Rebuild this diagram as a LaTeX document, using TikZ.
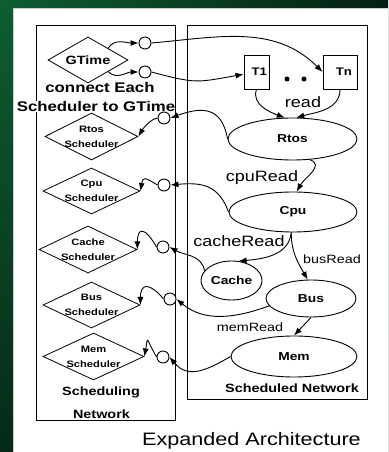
\documentclass[tikz,border=0pt]{standalone}
\usepackage{fontspec}
\setmainfont[FakeStretch=1.2]{Liberation Sans}
\usetikzlibrary{shapes.geometric,arrows.meta,shadings}

\definecolor{bgTL}{RGB}{14,94,50}
\definecolor{bgTR}{RGB}{5,32,18}
\definecolor{bgBL}{RGB}{6,42,22}
\definecolor{bgBR}{RGB}{4,26,14}
\definecolor{panelEdge}{RGB}{205,205,205}

\begin{document}
\begin{tikzpicture}[x=1pt,y=1pt,
  frame/.style={draw=black,line width=0.9pt},
  sched/.style={diamond,draw,line width=0.8pt,inner sep=0pt},
  stext/.style={font=\bfseries\fontsize{9.3}{15}\selectfont,align=center,inner sep=0pt},
  port/.style={circle,draw,line width=0.9pt,minimum size=12pt,inner sep=0pt,fill=white},
  proc/.style={ellipse,draw,line width=0.9pt,inner sep=0pt,font=\bfseries\fontsize{11.5}{13}\selectfont},
  task/.style={rectangle,draw,line width=0.9pt,minimum height=34pt,align=right,inner ysep=0pt,font=\bfseries\fontsize{11}{13}\selectfont},
  dotn/.style={circle,fill=black,minimum size=5pt,inner sep=0pt},
  lbl/.style={inner sep=0pt,font=\fontsize{15}{18}\selectfont},
  slbl/.style={inner sep=0pt,font=\fontsize{12}{14}\selectfont},
  blbl/.style={inner sep=0pt,font=\bfseries\fontsize{14}{17}\selectfont},
  nlbl/.style={inner sep=0pt,font=\bfseries\fontsize{12}{14}\selectfont},
  title/.style={inner sep=0pt,anchor=base,font=\fontsize{18}{21}\selectfont},
  conn/.style={-{Latex[length=8pt,width=6pt]},line width=0.9pt},
]
\useasboundingbox (0,0) rectangle (388,452);

% slide background and white panel
\shade[upper left=bgTL,upper right=bgTR,lower left=bgBL,lower right=bgBR]
  (0,0) rectangle (388,452);
\fill[white] (13,0) rectangle (388,444);
\draw[panelEdge,line width=1.2pt] (13.6,0) -- (13.6,443.4) -- (388,443.4);

% the two network frames
\draw[frame] (36,32) rectangle (175,427);
\draw[frame] (187,53) rectangle (367,427);

% scheduling network
\node[sched,minimum width=80pt,minimum height=46pt,
  label={[stext,font=\bfseries\fontsize{12}{14}\selectfont]center:GTime}] (gtime) at (88,392) {};
\node[blbl] (conn1) at (100,364) {connect Each};
\node[blbl,fill=white,inner ysep=0.5pt] (conn2) at (96,345.5) {Scheduler to GTime};

\node[sched,minimum width=93pt,minimum height=47pt,
  label={[stext]center:{Rtos\\Scheduler}}] (rtossch) at (91.5,315.5) {};
\node[sched,minimum width=97pt,minimum height=46pt,
  label={[stext]center:{Cpu\\Scheduler}}] (cpusch) at (91.5,261) {};
\node[sched,minimum width=98pt,minimum height=47pt,
  label={[stext]center:{Cache\\Scheduler}}] (cachesch) at (88,202.5) {};
\node[sched,minimum width=97pt,minimum height=46pt,
  label={[stext]center:{Bus\\Scheduler}}] (bussch) at (91.5,147) {};
\node[sched,minimum width=101pt,minimum height=47pt,
  label={[stext]center:{Mem\\Scheduler}}] (memsch) at (93.5,95.5) {};

\node[nlbl] (sn1) at (101,60) {Scheduling};
\node[nlbl] (sn2) at (101.5,38) {Network};

% ports between the two networks
\node[port] (cg1) at (145,409) {};
\node[port] (cg2) at (145,380) {};
\node[port] (crtos) at (164,334) {};
\node[port] (ccpu) at (164,267) {};
\node[port] (ccache) at (163,205) {};
\node[port] (cbus) at (170,153) {};
\node[port] (cmem) at (163,95) {};

% scheduled network
\node[task,text width=21pt,inner xsep=2pt] (t1) at (256.5,380) {T1};
\node[task,text width=24pt,inner xsep=5pt] (tn) at (340,380) {Tn};
\node[dotn] (dot1) at (287,373) {};
\node[dotn] (dot2) at (304,373) {};

\node[proc,minimum width=129pt,minimum height=42pt] (rtos) at (292.5,313) {Rtos};
\node[proc,minimum width=128pt,minimum height=40pt] (cpu) at (293,240) {Cpu};
\node[proc,minimum width=61pt,minimum height=39pt] (cache) at (231.5,171.5) {Cache};
\node[proc,minimum width=90pt,minimum height=37pt] (bus) at (311,153.5) {Bus};
\node[proc,minimum width=126pt,minimum height=41pt] (mem) at (294,95.5) {Mem};

\node[lbl] (lread) at (303,350) {read};
\node[lbl] (lcpur) at (262,274) {cpuRead};
\node[lbl] (lcacher) at (239,211) {cacheRead};
\node[slbl] (lbusr) at (332,193) {busRead};
\node[slbl] (lmemr) at (250,125) {memRead};
\node[nlbl] (sdn) at (292,64) {Scheduled Network};

\node[title] (cap) at (251.5,6) {Expanded Architecture};

% connectors
\draw[conn] (gtime.north east) to[out=60,in=180] (cg1.west);
\draw[conn] (gtime.south east) to[out=-45,in=180] (cg2.west);
\draw[conn] (cg1.east) to[out=5,in=135] (tn.west);
\draw[conn] (cg2.east) to[out=-15,in=190,looseness=1.3] (t1.190);
\draw[conn] (t1.south) to[out=-110,in=160] (rtos.110);
\draw[conn] (tn.south) to[out=-90,in=15] (rtos.80);
\draw[conn] (rtos.west) to[out=100,in=20,looseness=1.4] (crtos.east);
\draw[conn] (crtos.west) to[out=190,in=60,distance=8pt] (rtossch.east);
\draw[conn] (rtos.-50) to[out=-20,in=60,looseness=1.2] (cpu.80);
\draw[conn] (cpu.west) to[out=110,in=5,looseness=1.2] (ccpu.east);
\draw[conn] (ccpu.west) to[out=150,in=80,distance=15pt] (cpusch.east);
\draw[conn] (cpu.-95) to[out=-95,in=5] (cache.70);
\draw[conn] (cpu.-95) to[out=-90,in=120] (bus.100);
\draw[conn] (cache.160) to[out=100,in=-30] (ccache.east);
\draw[conn] (ccache.west) to[out=120,in=90,distance=23pt] (cachesch.east);
\draw[conn] (bus.190) to[out=200,in=-40] (cbus.east);
\draw[conn] (cbus.west) to[out=130,in=90,distance=22pt] (bussch.east);
\draw[conn] (bus.south) -- (mem.north);
\draw[conn] (mem.west) to[out=210,in=-50,looseness=1.2] (cmem.east);
\draw[conn] (cmem.west) to[out=120,in=80,distance=22pt] (memsch.east);
\end{tikzpicture}
\end{document}
